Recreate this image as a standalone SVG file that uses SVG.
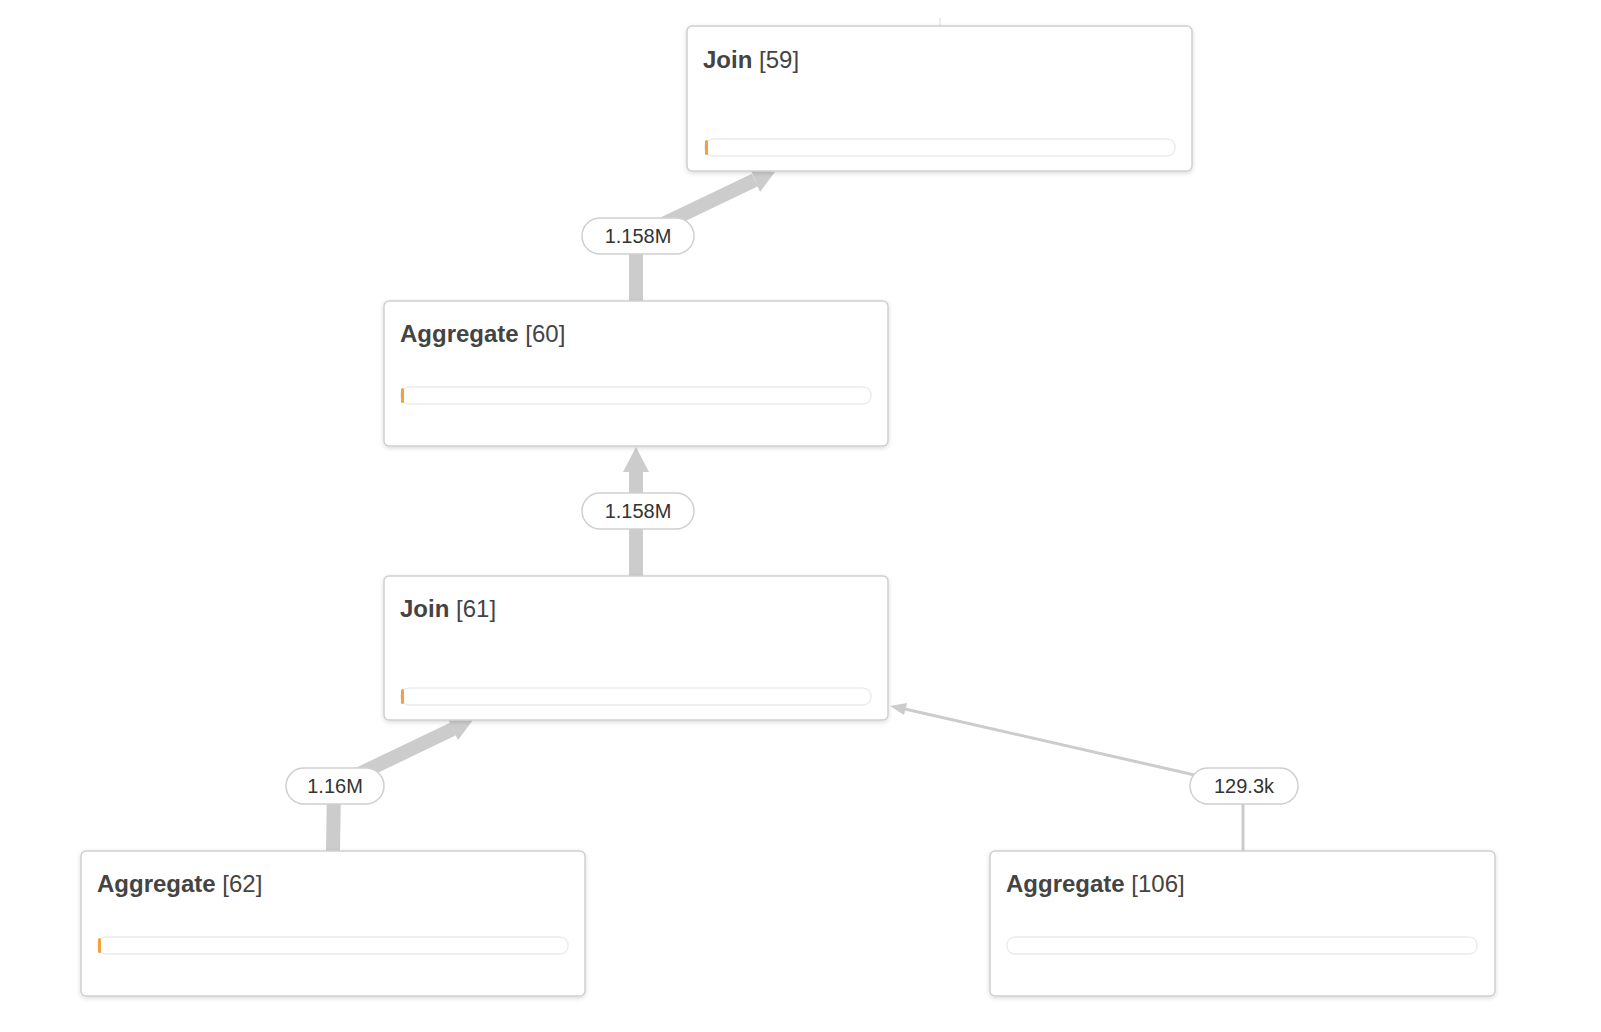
<svg xmlns="http://www.w3.org/2000/svg" width="1601" height="1032" viewBox="0 0 1601 1032">
<style>
.box{fill:#fff;stroke:#cfcfcf;stroke-width:1.5}
.bar{fill:#fff;stroke:#ececec;stroke-width:1.5}
.prog{fill:#f5a03c}
.t{font-family:"Liberation Sans",Arial,sans-serif;font-size:24px;fill:#444}
.b{font-weight:bold}
.pill{fill:#fff;stroke:#cfcfcf;stroke-width:1.5}
.lt{font-family:"Liberation Sans",Arial,sans-serif;font-size:20px;fill:#333;text-anchor:middle}
.thick{fill:none;stroke:#cccccc;stroke-width:14}
.thin{fill:none;stroke:#cccccc;stroke-width:3}
.ah{fill:#cccccc}
</style>
<defs>
<filter id="sh" x="-5%" y="-5%" width="110%" height="115%"><feDropShadow dx="0" dy="1.5" stdDeviation="2" flood-color="#000" flood-opacity="0.15"/></filter>
</defs>
<g id="connectors">
<polyline class="thick" points="636,301 636,237 755,180"/>
<polygon class="ah" points="775,172 760,192 750,168"/>
<line class="thick" x1="636" y1="576" x2="636" y2="470"/>
<polygon class="ah" points="636,447 623,472 649,472"/>
<polyline class="thick" points="333,851 334,786 453,729"/>
<polygon class="ah" points="473,720 458,740 448,719"/>
<polyline class="thin" points="1243,851 1243,786 905,709"/>
<polygon class="ah" points="890,706 907,703 904,715"/>
<line x1="940" y1="18" x2="940" y2="26" stroke="#ddd" stroke-width="1"/>
<g>
<rect class="pill" x="582" y="218" width="112" height="36" rx="18"/>
<text class="lt" x="638" y="243">1.158M</text>
<rect class="pill" x="582" y="493" width="112" height="36" rx="18"/>
<text class="lt" x="638" y="518">1.158M</text>
<rect class="pill" x="286" y="768" width="98" height="36" rx="18"/>
<text class="lt" x="335" y="793">1.16M</text>
<rect class="pill" x="1190" y="768" width="108" height="36" rx="18"/>
<text class="lt" x="1244" y="793">129.3k</text>
</g>
</g>
<g id="join59">
<rect class="box" filter="url(#sh)" x="687" y="26" width="505" height="145" rx="5"/>
<text class="t" x="703" y="68"><tspan class="b">Join</tspan> [59]</text>
<rect class="bar" x="705" y="139" width="470" height="17" rx="8"/>
<rect class="prog" x="705" y="140" width="3" height="15" rx="1.5"/>
</g>
<g id="aggregate60">
<rect class="box" filter="url(#sh)" x="384" y="301" width="504" height="145" rx="5"/>
<text class="t" x="400" y="342"><tspan class="b">Aggregate</tspan> [60]</text>
<rect class="bar" x="401" y="387" width="470" height="17" rx="8"/>
<rect class="prog" x="401" y="388" width="3" height="15" rx="1.5"/>
</g>
<g id="join61">
<rect class="box" filter="url(#sh)" x="384" y="576" width="504" height="144" rx="5"/>
<text class="t" x="400" y="617"><tspan class="b">Join</tspan> [61]</text>
<rect class="bar" x="401" y="688" width="470" height="17" rx="8"/>
<rect class="prog" x="401" y="689" width="3" height="15" rx="1.5"/>
</g>
<g id="aggregate62">
<rect class="box" filter="url(#sh)" x="81" y="851" width="504" height="145" rx="5"/>
<text class="t" x="97" y="892"><tspan class="b">Aggregate</tspan> [62]</text>
<rect class="bar" x="98" y="937" width="470" height="17" rx="8"/>
<rect class="prog" x="98" y="938" width="3" height="15" rx="1.5"/>
</g>
<g id="aggregate106">
<rect class="box" filter="url(#sh)" x="990" y="851" width="505" height="145" rx="5"/>
<text class="t" x="1006" y="892"><tspan class="b">Aggregate</tspan> [106]</text>
<rect class="bar" x="1007" y="937" width="470" height="17" rx="8"/>
</g>
</svg>
